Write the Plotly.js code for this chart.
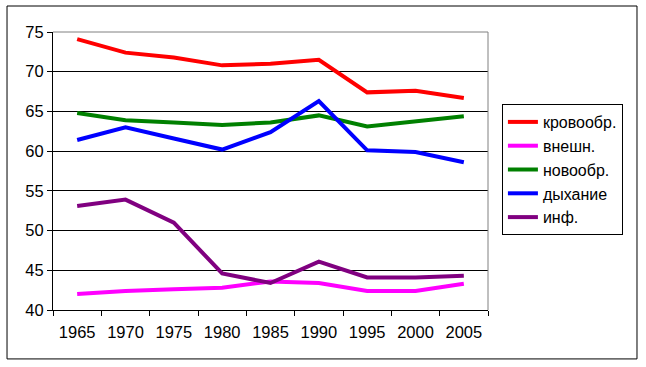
<!DOCTYPE html>
<html><head><meta charset="utf-8">
<script src="https://cdn.plot.ly/plotly-3.0.1.min.js"></script>
<style>html,body{margin:0;padding:0;background:#fff}#c{width:646px;height:367px}</style>
</head><body><div id="c"></div>
<script>
const years = ['1965','1970','1975','1980','1985','1990','1995','2000','2005'];
const names = ['кровообр.','внешн.','новообр.','дыхание','инф.'];
const colors = ['#ff0000','#ff00ff','#008000','#0000ff','#800080'];
const krovoobr = [74.1,72.4,71.8,70.8,71.0,71.5,67.4,67.6,66.7];
const vneshn   = [42.0,42.4,42.6,42.8,43.6,43.4,42.4,42.4,43.3];
const novoobr  = [64.8,63.9,63.6,63.3,63.6,64.5,63.1,63.7,64.4];
const dyhanie  = [61.4,63.0,61.6,60.2,62.4,66.3,60.1,59.9,58.6];
const inf      = [53.1,53.9,51.0,44.6,43.4,46.1,44.1,44.1,44.3];
const series = [krovoobr,vneshn,novoobr,dyhanie,inf];
const traces = series.map((s,i)=>({
  x: years, y: s, name: names[i], type:'scatter', mode:'lines',
  line:{color:colors[i], width:4}, legendgroup:'g'+i
}));
const font = {family:'"Liberation Sans", Arial, sans-serif', size:16.5, color:'#000'};
const layout = {
  width:646, height:367,
  margin:{l:53, r:158, t:32, b:57, pad:0},
  paper_bgcolor:'#fff', plot_bgcolor:'#fff',
  font: font,
  showlegend:true,
  legend:{x:1.032, y:0.741, xanchor:'left', yanchor:'top', bordercolor:'#000', borderwidth:1,
    font:{family:font.family, size:16, color:'#000'}, tracegroupgap:5, traceorder:'normal'},
  xaxis:{type:'category', range:[-0.5,8.5], tickson:'boundaries', ticks:'outside', ticklen:5,
    tickcolor:'#000', showline:true, linecolor:'#000', linewidth:1, showgrid:false,
    tickfont:font, ticklabelstandoff:7, fixedrange:true},
  yaxis:{range:[40,75], dtick:5, tick0:40, ticks:'outside', ticklen:5, tickcolor:'#000',
    showline:true, linecolor:'#000', linewidth:1, showgrid:true, gridcolor:'#000', gridwidth:1,
    zeroline:false, tickfont:font, fixedrange:true},
  shapes:[
    {type:'line', xref:'paper', yref:'paper', x0:0, x1:1, y0:1, y1:1, line:{color:'#808080', width:1}, layer:'above'},
    {type:'line', xref:'paper', yref:'paper', x0:1, x1:1, y0:0, y1:1, line:{color:'#808080', width:1}, layer:'above'},
    {type:'rect', xref:'paper', yref:'paper', x0:-0.1057, x1:1.3425, y0:-0.176, y1:1.0935, line:{color:'#000', width:1}, layer:'below'}
  ]
};
Plotly.newPlot('c', traces, layout, {displayModeBar:false, staticPlot:true});
</script></body></html>
